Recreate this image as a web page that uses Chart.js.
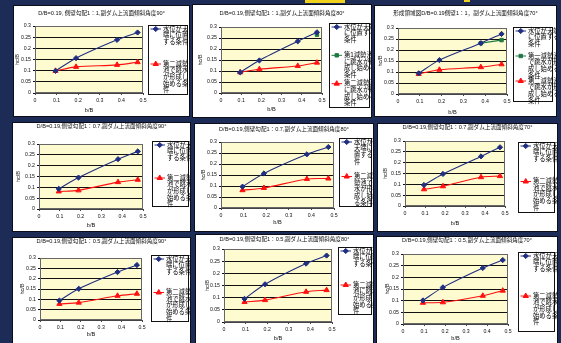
<!DOCTYPE html>
<html>
<head>
<meta charset="utf-8">
<script src="https://cdn.jsdelivr.net/npm/chart.js@4.4.1/dist/chart.umd.min.js"></script>
<style>
  html, body { margin: 0; padding: 0; }
  body { width: 561px; height: 343px; overflow: hidden; background: #1d2b57; position: relative; }
  .panel { position: absolute; background: #fff; border: 1px solid #0b0d18; box-sizing: border-box; }
  .panel canvas { position: absolute; left: 0; top: 0; }
  .mark { position: absolute; background: #f0d21c; }
</style>
</head>
<body>
<div class="mark" style="left:305px;top:0;width:40px;height:3px"></div>
<div class="mark" style="left:464px;top:0;width:6px;height:2px"></div>
<script>
// b/B values shared by every experiment series
const bOverB = [0.095, 0.19, 0.38, 0.475];

// axis ticks
const xTickValues = [0, 0.1, 0.2, 0.3, 0.4, 0.5];
const xTickLabels = ['0', '0.1', '0.2', '0.3', '0.4', '0.5'];
const yTickValues = [0, 0.05, 0.1, 0.15, 0.2, 0.25, 0.3];
const yTickLabels = ['0', '0.05', '0.1', '0.15', '0.2', '0.25', '0.3'];

const titles = [
  'D/B=0.19, 側壁勾配1：1,副ダム上流面傾斜角度90°',
  'D/B=0.19,側壁勾配1：1,副ダム上流面傾斜角度80°',
  '形成領域図D/B=0.19側壁1：1，副ダム上流面傾斜角度70°',
  'D/B=0.19,側壁勾配1：0.7,副ダム上流面傾斜角度90°',
  'D/B=0.19,側壁勾配1：0.7,副ダム上流面傾斜角度80°',
  'D/B=0.19,側壁勾配1：0.7,副ダム上流面傾斜角度70°',
  'D/B=0.19,側壁勾配1：0.5,副ダム上流面傾斜角度90°',
  'D/B=0.19,側壁勾配1：0.5,副ダム上流面傾斜角度80°',
  'D/B=0.19,側壁勾配1：0.5,副ダム上流面傾斜角度70°'
];

// hc/B: water level at the crest
const crestLevel = [
  [0.099, 0.156, 0.238, 0.271],
  [0.094, 0.148, 0.235, 0.276],
  [0.094, 0.154, 0.231, 0.273],
  [0.093, 0.145, 0.230, 0.266],
  [0.097, 0.157, 0.244, 0.277],
  [0.097, 0.148, 0.229, 0.271],
  [0.094, 0.151, 0.232, 0.266],
  [0.095, 0.155, 0.240, 0.273],
  [0.101, 0.157, 0.240, 0.274]
];

// hc/B: hydraulic jump starts forming in the first stilling basin
const firstBasin = [
  null,
  [null, null, null, 0.265],
  [null, null, 0.231, 0.245],
  null, null, null, null, null, null
];

// hc/B: hydraulic jump starts forming in the second stilling basin
const secondBasin = [
  [0.099, 0.117, 0.126, 0.138],
  [0.094, 0.108, 0.123, 0.138],
  [0.091, 0.110, 0.122, 0.135],
  [0.081, 0.086, 0.124, 0.135],
  [0.081, 0.091, 0.132, 0.134],
  [0.077, 0.091, 0.133, 0.138],
  [0.078, 0.084, 0.117, 0.127],
  [0.082, 0.090, 0.124, 0.131],
  [0.091, 0.093, 0.121, 0.143]
];

// legend texts, one entry per line as wrapped in each legend box
const crestLabels = [
  ['水位が天', '端に位置', 'する条件'],
  ['水位が天端', 'に位置する', '条件'],
  ['水位が天端', 'に位置する', '条件'],
  ['水位が天', '端に位置', 'する条件'],
  ['水位が', '天端に位', '置する条', '件'],
  ['水位が天', '端に位置', 'する条件'],
  ['水位が天', '端に位置', 'する条件'],
  ['水位が天', '端に位置', 'する条件'],
  ['水位が天', '端に位置', 'する条件']
];
const firstLabels = [
  null,
  ['第1減勢池', 'に跳水が形', '成し始める', '条件'],
  ['第一減勢池', 'で跳水が形', '成し始める', '条件'],
  null, null, null, null, null, null
];
const secondLabels = [
  ['第二減勢', '池で跳水', 'が形成し', '始める条', '件'],
  ['第二減勢池', 'に跳水が形', '成し始める', '条件'],
  ['第二減勢池', 'で跳水が形', '成し始める', '条件'],
  ['第二減勢', '池で跳水', 'が形成し', '始める条', '件'],
  ['第二減', '勢池で跳', '水が形', '成し始め', 'る条件'],
  ['第二減勢', '池で跳水', 'が形成し', '始める条', '件'],
  ['第二減勢', '池で跳水', 'が形成し', '始める条', '件'],
  ['第二減勢', '池に跳水', 'が形成し', '始める条', '件'],
  ['第二減勢', '池で跳水', 'が形成し', '始める条', '件']
];

const xTitle = 'b/B';
const yTitle = 'hc/B';

// page layout of the nine panels (page pixels)
const panels = [
  { box: [13, 5, 190, 117],   plot: [35, 26, 143, 93],    legend: [148, 25, 188, 95],   titleY: 13,  xTitleY: 110, yTitleX: 15 },
  { box: [192, 4, 372, 118],  plot: [221, 27, 322, 93],   legend: [329, 23, 370, 108],  titleY: 13,  xTitleY: 109, yTitleX: 200 },
  { box: [374, 5, 557, 117],  plot: [398, 28, 507, 94],   legend: [513, 27, 553, 102],  titleY: 13,  xTitleY: 112, yTitleX: 380 },
  { box: [12, 122, 191, 232], plot: [39, 144, 143, 209],  legend: [152, 141, 189, 207], titleY: 125, xTitleY: 225, yTitleX: 18 },
  { box: [194, 123, 374, 232],plot: [221, 142, 334, 208], legend: [339, 138, 372, 207], titleY: 129, xTitleY: 222, yTitleX: 203 },
  { box: [377, 123, 558, 232],plot: [405, 141, 505, 206], legend: [518, 142, 555, 213], titleY: 127, xTitleY: 223, yTitleX: 385 },
  { box: [12, 237, 191, 349], plot: [40, 258, 142, 320],  legend: [151, 255, 189, 322], titleY: 241, xTitleY: 334, yTitleX: 22 },
  { box: [195, 234, 374, 349],plot: [224, 249, 332, 322], legend: [338, 247, 372, 315], titleY: 239, xTitleY: 338, yTitleX: 207 },
  { box: [376, 236, 558, 349],plot: [403, 254, 508, 324], legend: [518, 252, 555, 332], titleY: 240, xTitleY: 338, yTitleX: 387 }
];

const FONT = "'Liberation Sans', 'Noto Sans CJK JP', sans-serif";
const TITLE_PX = 5.6;
const AXIS_PX = 5.6;
const TICK_PX = 5.2;
const LEGEND_PX = 6.3;
const LEGEND_LH = 6.6;

const BLUE = '#1f2e80';
const RED = '#ff1010';
const GREEN = '#1d7a42';

Chart.defaults.font.family = FONT;
Chart.defaults.color = '#111';

// cream plot background and frame
const plotFrame = {
  id: 'plotFrame',
  beforeDraw(chart) {
    const { ctx, chartArea: a } = chart;
    ctx.save();
    ctx.fillStyle = '#fffbd0';
    ctx.fillRect(a.left, a.top, a.width, a.height);
    ctx.restore();
  },
  beforeDatasetsDraw(chart) {
    const { ctx, chartArea: a } = chart;
    ctx.save();
    ctx.strokeStyle = '#666';
    ctx.lineWidth = 1;
    ctx.strokeRect(Math.round(a.left) + 0.5, Math.round(a.top) + 0.5, Math.round(a.width) - 1, Math.round(a.height) - 1);
    ctx.restore();
  }
};

// framed legend to the right of the plot; entries spread over equal slots
const boxLegend = {
  id: 'boxLegend',
  afterDraw(chart, args, opts) {
    const r = opts.rect;
    if (!r) return;
    const ctx = chart.ctx;
    const ds = chart.data.datasets;
    ctx.save();
    ctx.fillStyle = '#fff';
    ctx.fillRect(r[0], r[1], r[2] - r[0], r[3] - r[1]);
    ctx.strokeStyle = '#111';
    ctx.lineWidth = 1;
    ctx.strokeRect(Math.round(r[0]) + 0.5, Math.round(r[1]) + 0.5, Math.round(r[2] - r[0]) - 1, Math.round(r[3] - r[1]) - 1);
    const slot = (r[3] - r[1]) / ds.length;
    ctx.font = LEGEND_PX + 'px ' + FONT;
    ctx.textBaseline = 'middle';
    ctx.textAlign = 'left';
    ds.forEach((d, i) => {
      const y = r[1] + i * slot + 4;
      ctx.strokeStyle = d.borderColor;
      ctx.lineWidth = 1;
      ctx.beginPath();
      ctx.moveTo(r[0] + 2.5, y);
      ctx.lineTo(r[0] + 13, y);
      ctx.stroke();
      ctx.fillStyle = d.backgroundColor;
      Chart.helpers.drawPoint(ctx, { pointStyle: d.pointStyle, radius: d.pointRadius, borderWidth: 1, rotation: 0 }, r[0] + 7.75, y);
      ctx.fillStyle = '#000';
      d.label.forEach((line, k) => ctx.fillText(line, r[0] + 15, y + k * LEGEND_LH));
    });
    ctx.restore();
  }
};

function series(ys) {
  return bOverB.map((x, k) => ({ x, y: ys[k] })).filter(p => p.y != null);
}

function tickText(values, labels, v) {
  const k = values.findIndex(t => Math.abs(t - v) < 1e-6);
  return k < 0 ? '' : labels[k];
}

panels.forEach((p, i) => {
  const [bl, bt, br, bb] = p.box;
  const ox = bl + 1, oy = bt + 1;
  const cw = br - bl - 2, ch = bb - bt - 2;

  const div = document.createElement('div');
  div.className = 'panel';
  div.style.left = bl + 'px';
  div.style.top = bt + 'px';
  div.style.width = (br - bl) + 'px';
  div.style.height = (bb - bt) + 'px';
  const canvas = document.createElement('canvas');
  canvas.width = cw;
  canvas.height = ch;
  canvas.style.width = cw + 'px';
  canvas.style.height = ch + 'px';
  div.appendChild(canvas);
  document.body.appendChild(div);

  const plotL = p.plot[0] - ox, plotT = p.plot[1] - oy;
  const plotR = p.plot[2] - ox, plotB = p.plot[3] - oy;
  const tLH = TITLE_PX * 1.2, aLH = AXIS_PX * 1.2;
  const titleTop = Math.max(0, p.titleY - oy - tLH / 2);
  const titleBottom = Math.max(0, plotT - titleTop - tLH);
  const xTitlePad = Math.max(0, ch - (p.xTitleY - oy) - aLH / 2);
  const yTitlePad = Math.max(0, (p.yTitleX - ox) - aLH / 2);

  const datasets = [{
    label: crestLabels[i],
    data: series(crestLevel[i]),
    borderColor: BLUE, backgroundColor: BLUE,
    pointStyle: 'rectRot', pointRadius: 2.6, borderWidth: 1.1, tension: 0.3
  }];
  if (firstBasin[i]) {
    datasets.push({
      label: firstLabels[i],
      data: series(firstBasin[i]),
      borderColor: GREEN, backgroundColor: GREEN,
      pointStyle: 'rect', pointRadius: 2.4, borderWidth: 1.1, tension: 0.3
    });
  }
  datasets.push({
    label: secondLabels[i],
    data: series(secondBasin[i]),
    borderColor: RED, backgroundColor: RED,
    pointStyle: 'triangle', pointRadius: 3, borderWidth: 1.1, tension: 0.3
  });
  datasets.forEach(d => { d.showLine = true; d.xAxisID = 'x'; d.yAxisID = 'y'; d.pointBorderWidth = 1; });

  new Chart(canvas, {
    type: 'scatter',
    data: { datasets },
    options: {
      responsive: false,
      animation: false,
      devicePixelRatio: 1,
      layout: { padding: { left: 0, right: 0, top: 0, bottom: 0 }, autoPadding: false },
      plugins: {
        legend: { display: false },
        tooltip: { enabled: false },
        title: {
          display: true,
          text: titles[i],
          color: '#111',
          font: { size: TITLE_PX, weight: 'normal' },
          padding: { top: titleTop, bottom: titleBottom }
        },
        boxLegend: { rect: [p.legend[0] - ox, p.legend[1] - oy, p.legend[2] - ox, p.legend[3] - oy] }
      },
      scales: {
        x: {
          type: 'linear', position: 'bottom', min: 0, max: 0.5,
          afterFit: s => { s.height = ch - plotB; },
          ticks: {
            stepSize: 0.1, padding: 2, color: '#111', font: { size: TICK_PX },
            maxRotation: 0, autoSkip: false,
            callback: v => tickText(xTickValues, xTickLabels, v)
          },
          grid: { drawOnChartArea: false, drawTicks: true, tickLength: 2, color: '#444' },
          border: { display: true, color: '#444' },
          title: { display: true, text: xTitle, color: '#111', font: { size: AXIS_PX }, padding: { top: 0, bottom: xTitlePad } }
        },
        y: {
          type: 'linear', position: 'left', min: 0, max: 0.3,
          afterFit: s => { s.width = plotL; },
          ticks: {
            stepSize: 0.05, padding: 2, color: '#111', font: { size: TICK_PX },
            autoSkip: false,
            callback: v => tickText(yTickValues, yTickLabels, v)
          },
          grid: { color: '#111', lineWidth: 1, drawTicks: true, tickLength: 2 },
          border: { display: true, color: '#444' },
          title: { display: true, text: yTitle, color: '#111', font: { size: AXIS_PX }, padding: { top: yTitlePad, bottom: 0 } }
        },
        legendSpace: {
          type: 'linear', position: 'right', min: 0, max: 1, display: true,
          afterFit: s => { s.width = cw - plotR; },
          ticks: { display: false },
          grid: { display: false },
          border: { display: false }
        }
      }
    },
    plugins: [plotFrame, boxLegend]
  });
});
</script>
</body>
</html>
